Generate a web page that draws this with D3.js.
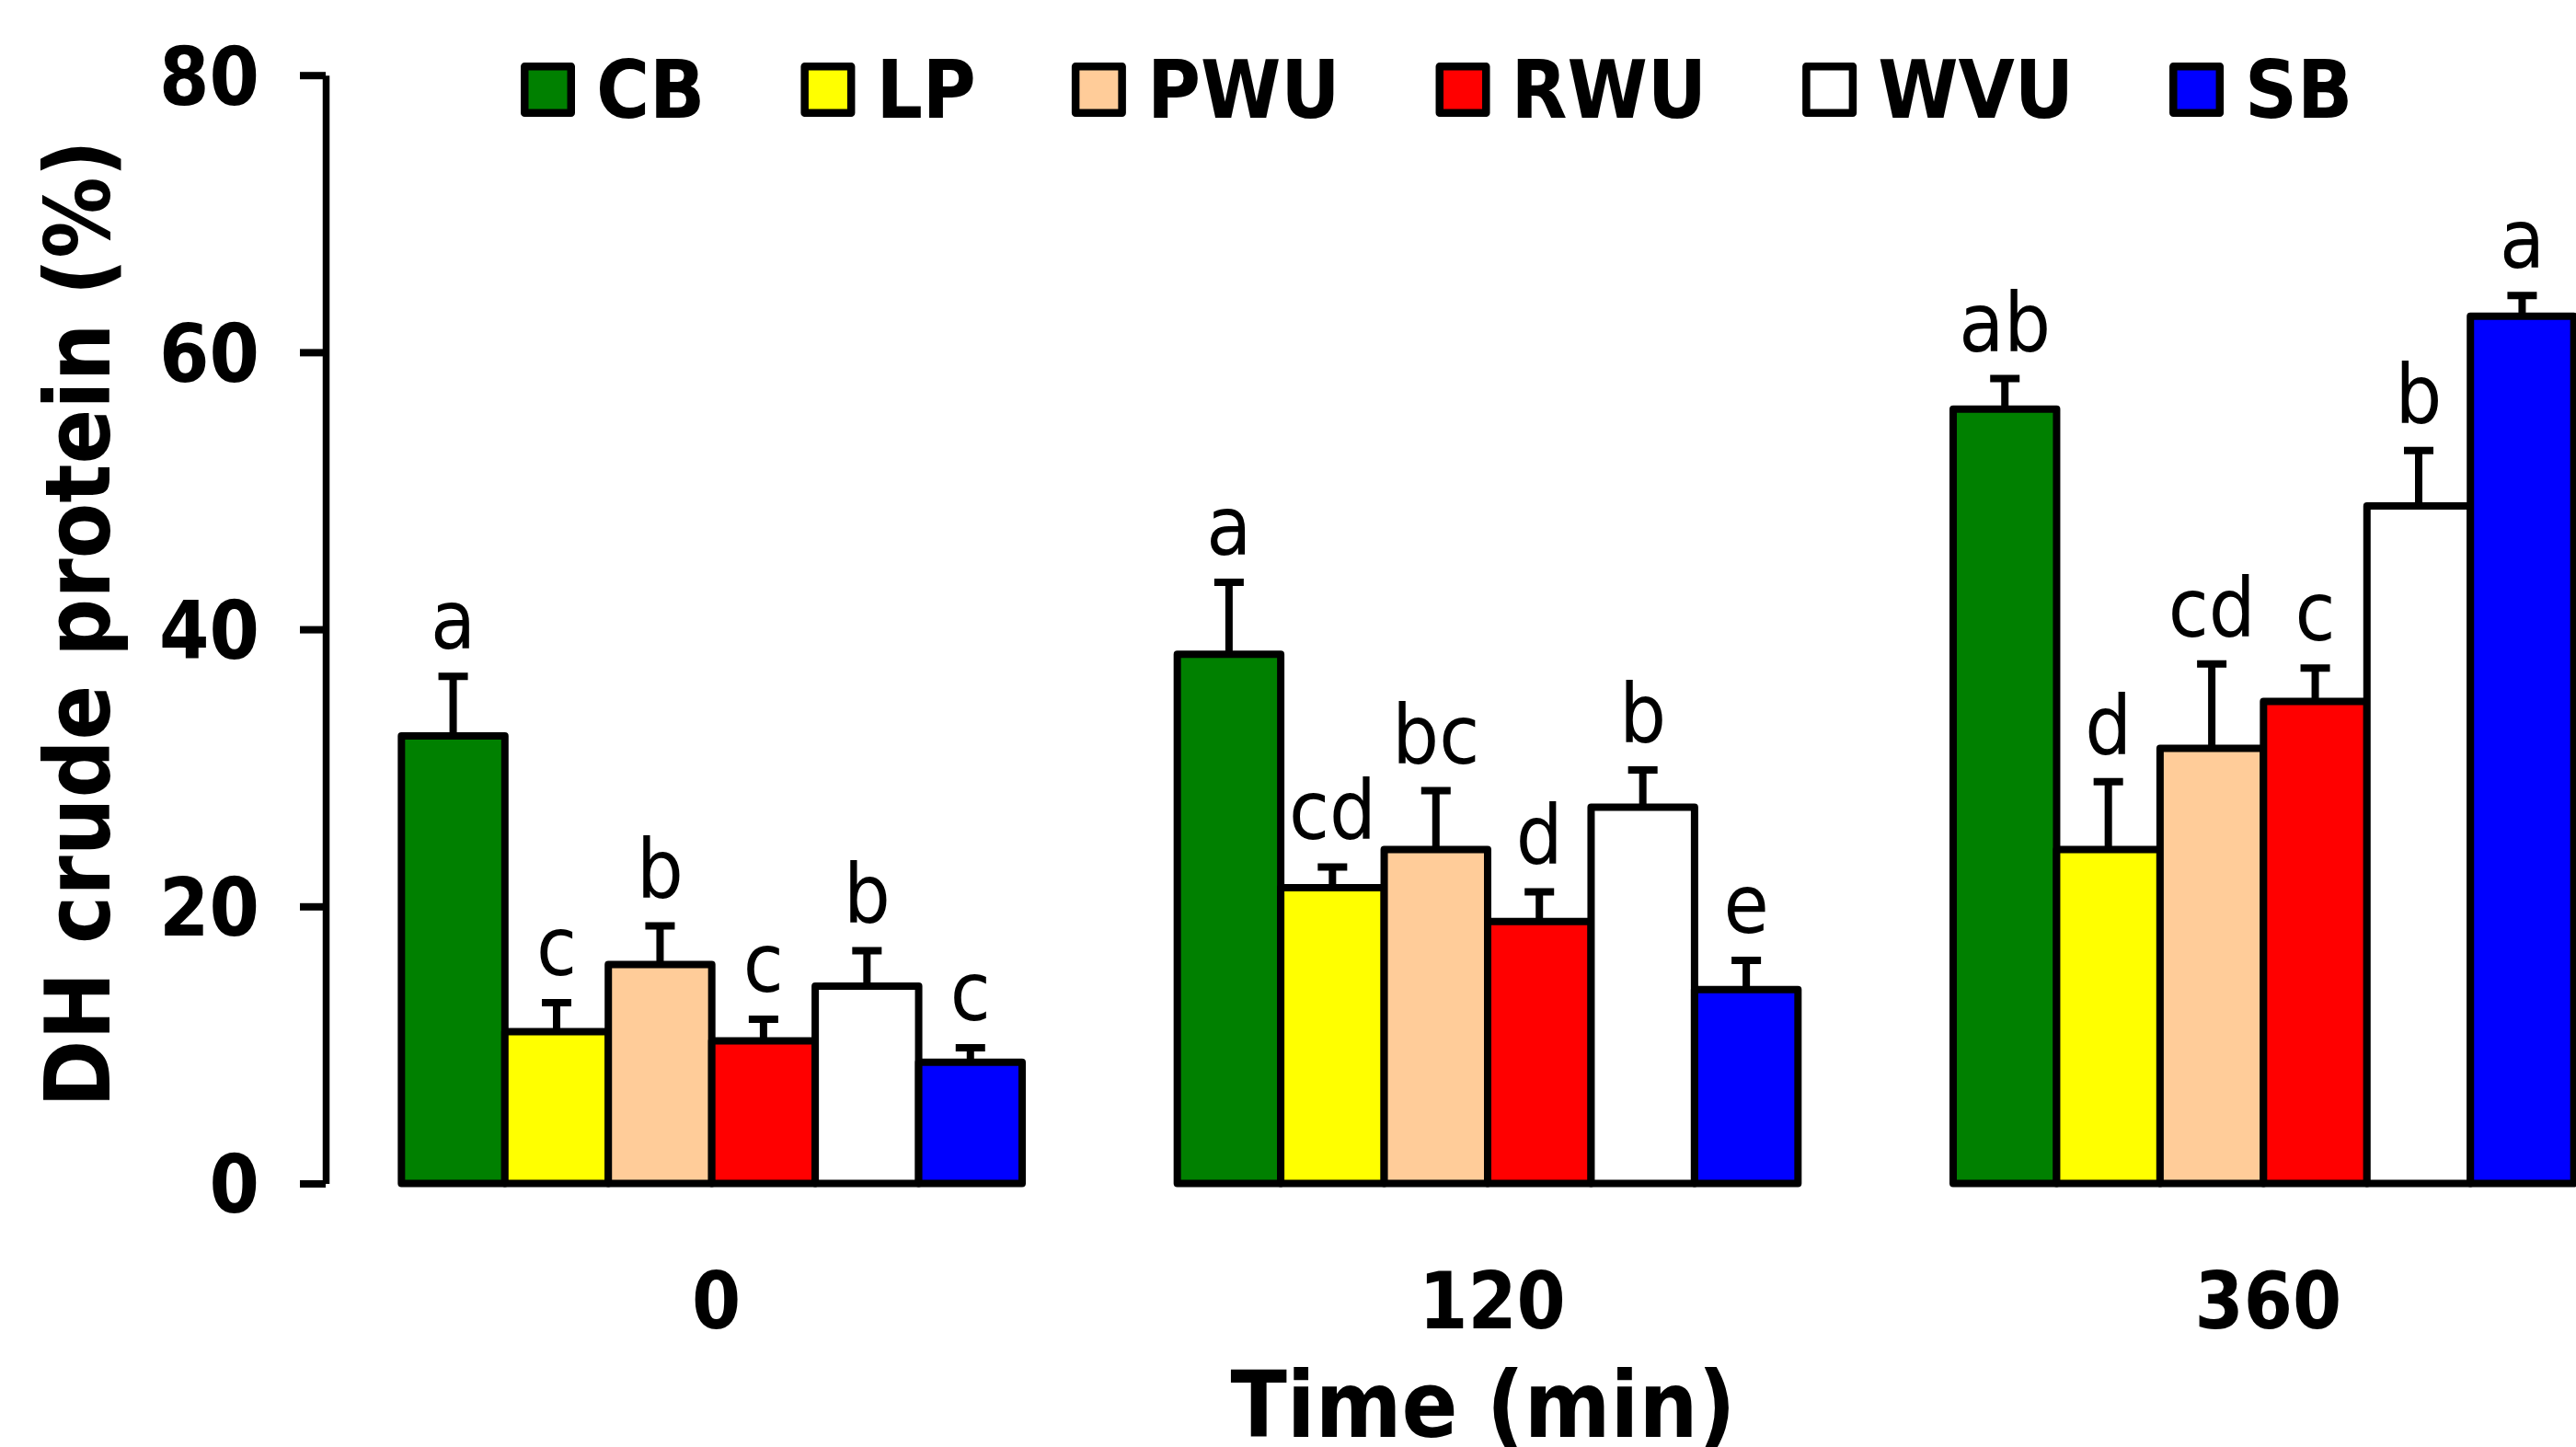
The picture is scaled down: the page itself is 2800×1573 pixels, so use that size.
<!DOCTYPE html>
<html>
<head>
<meta charset="utf-8">
<script src="https://cdn.jsdelivr.net/npm/d3@7"></script>
<style>
  html, body { margin: 0; padding: 0; background: #fff; }
  svg { display: block; }
  text { font-family: "DejaVu Sans Condensed", "DejaVu Sans", sans-serif; font-stretch: condensed; }
</style>
</head>
<body>
<div id="chart"></div>
<script>
// time points (min) and treatments
const times = ["0", "120", "360"];
const treatments = ["CB", "LP", "PWU", "RWU", "WVU", "SB"];
const colors = ["#008000", "#ffff00", "#ffcc99", "#ff0000", "#ffffff", "#0000ff"];

// DH crude protein (%) mean per treatment, one value per time point
const CB  = [32.3, 38.2, 55.9];
const LP  = [10.95, 21.35, 24.1];
const PWU = [15.8, 24.1, 31.4];
const RWU = [10.3, 18.9, 34.8];
const WVU = [14.25, 27.15, 48.9];
const SB  = [8.75, 14.0, 62.6];

// standard errors (upper whisker only)
const CB_err  = [4.3, 5.2, 2.2];
const LP_err  = [2.1, 1.5, 4.9];
const PWU_err = [2.8, 4.25, 6.1];
const RWU_err = [1.55, 2.15, 2.4];
const WVU_err = [2.55, 2.7, 4.0];
const SB_err  = [1.05, 2.1, 1.5];

// significance letters
const CB_sig  = ["a", "a", "ab"];
const LP_sig  = ["c", "cd", "d"];
const PWU_sig = ["b", "bc", "cd"];
const RWU_sig = ["c", "d", "c"];
const WVU_sig = ["b", "b", "b"];
const SB_sig  = ["c", "e", "a"];

const yTicks = [0, 20, 40, 60, 80];

const means = [CB, LP, PWU, RWU, WVU, SB];
const errs = [CB_err, LP_err, PWU_err, RWU_err, WVU_err, SB_err];
const sigs = [CB_sig, LP_sig, PWU_sig, RWU_sig, WVU_sig, SB_sig];

// flat table for the bars
const rows = [];
times.forEach((t, ti) => {
  treatments.forEach((s, si) => {
    rows.push({time: t, trt: s, value: means[si][ti], err: errs[si][ti], sig: sigs[si][ti]});
  });
});

const W = 2800, H = 1573;
const axisX = 354;

const svg = d3.select("#chart").append("svg")
  .attr("width", W)
  .attr("height", H);

const y = d3.scaleLinear().domain([0, 80]).range([1286.5, 81.7]);

const x0 = d3.scaleBand()
  .domain(times)
  .range([352, 2882])
  .paddingInner(0.2)
  .paddingOuter(0.1);

const x1 = d3.scaleBand()
  .domain(treatments)
  .range([0, x0.bandwidth()]);

const color = d3.scaleOrdinal().domain(treatments).range(colors);

// y axis
const yAxis = svg.append("g")
  .attr("transform", "translate(" + axisX + ",0)")
  .call(d3.axisLeft(y).tickValues(yTicks).tickSize(28).tickPadding(44).tickSizeOuter(0));
yAxis.select(".domain").attr("stroke", "#000").attr("stroke-width", 7.5);
yAxis.selectAll(".tick line").attr("stroke", "#000").attr("stroke-width", 8);
yAxis.selectAll(".tick text")
  .attr("fill", "#000")
  .attr("font-size", 87)
  .attr("font-weight", "bold")
  .attr("dy", "0.36em")
  .style("font-family", null);

// bars
const bars = svg.append("g").selectAll("g")
  .data(rows)
  .join("g")
  .attr("transform", d => "translate(" + (x0(d.time) + x1(d.trt)) + ",0)");

// error whiskers drawn first so the bar outline covers their foot
bars.append("line")
  .attr("x1", x1.bandwidth() / 2).attr("x2", x1.bandwidth() / 2)
  .attr("y1", d => y(d.value)).attr("y2", d => y(d.value + d.err))
  .attr("stroke", "#000").attr("stroke-width", 8);
bars.append("line")
  .attr("x1", x1.bandwidth() / 2 - 16).attr("x2", x1.bandwidth() / 2 + 16)
  .attr("y1", d => y(d.value + d.err)).attr("y2", d => y(d.value + d.err))
  .attr("stroke", "#000").attr("stroke-width", 8);

bars.append("rect")
  .attr("x", 0)
  .attr("y", d => y(d.value))
  .attr("width", x1.bandwidth())
  .attr("height", d => y(0) - y(d.value))
  .attr("fill", d => color(d.trt))
  .attr("stroke", "#000")
  .attr("stroke-width", 8)
  .attr("stroke-linejoin", "round");

bars.append("text")
  .attr("x", x1.bandwidth() / 2)
  .attr("y", d => y(d.value + d.err) - 30)
  .attr("text-anchor", "middle")
  .attr("font-size", 89)
  .text(d => d.sig);

// x tick labels
svg.append("g").selectAll("text")
  .data(times)
  .join("text")
  .attr("x", d => x0(d) + x0.bandwidth() / 2 + 5)
  .attr("y", 1444)
  .attr("text-anchor", "middle")
  .attr("font-size", 85)
  .attr("font-weight", "bold")
  .text(d => d);

// axis titles
svg.append("text")
  .attr("x", 1612)
  .attr("y", 1562)
  .attr("text-anchor", "middle")
  .attr("font-size", 100)
  .attr("font-weight", "bold")
  .text("Time (min)");

svg.append("text")
  .attr("transform", "translate(119," + 678 + ") rotate(-90)")
  .attr("text-anchor", "middle")
  .attr("font-size", 98)
  .attr("font-weight", "bold")
  .text("DH crude protein (%)");

// legend, laid out left to right from the measured label widths
const legend = svg.append("g");
let lx = 566;
treatments.forEach((s, i) => {
  legend.append("rect")
    .attr("x", lx + 4.25).attr("y", 68 + 4.25)
    .attr("width", 50.5).attr("height", 50.5)
    .attr("fill", color(s))
    .attr("stroke", "#000").attr("stroke-width", 8.5)
    .attr("stroke-linejoin", "round");
  const t = legend.append("text")
    .attr("x", lx + 82)
    .attr("y", 128)
    .attr("font-size", 88)
    .attr("font-weight", "bold")
    .text(s);
  lx += 82 + t.node().getComputedTextLength() + 104;
});
</script>
</body>
</html>
